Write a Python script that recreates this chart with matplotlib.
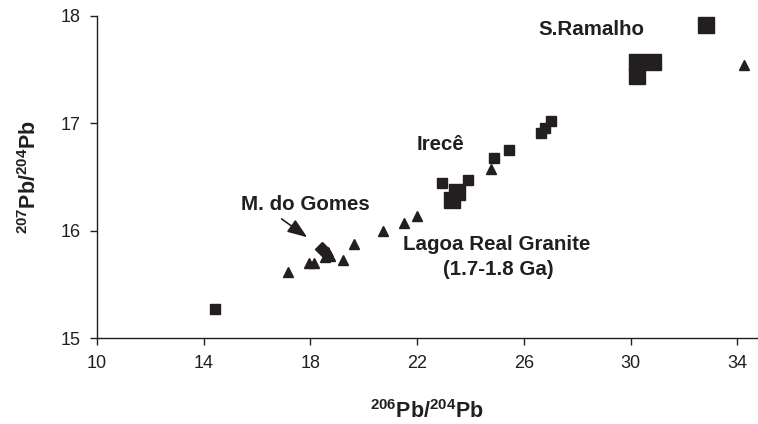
import matplotlib.pyplot as plt

plt.rcParams['font.family'] = ['Liberation Sans', 'DejaVu Sans']
plt.rcParams['mathtext.fontset'] = 'custom'
plt.rcParams['mathtext.rm'] = 'Liberation Sans:bold'
plt.rcParams['mathtext.default'] = 'rm'

INK = '#231f20'

# Lagoa Real granite (triangles)
tri_x = [17.15, 17.95, 18.15, 18.55, 18.75, 18.65, 19.23, 19.62, 20.73, 21.52, 22.00, 24.78, 34.26]
tri_y = [15.62, 15.70, 15.70, 15.76, 15.77, 15.80, 15.73, 15.88, 16.00, 16.07, 16.14, 16.57, 17.54]

# M. do Gomes (diamond)
dia_x = [18.45]
dia_y = [15.83]

# ore samples, small squares
sq_x = [14.42, 22.92, 23.92, 24.89, 25.46, 26.64, 26.79, 27.02]
sq_y = [15.27, 16.44, 16.47, 16.68, 16.75, 16.91, 16.96, 17.02]

# large squares (Irecê / S.Ramalho)
big_x = [23.29, 23.51, 30.26, 30.84, 30.26, 32.83]
big_y = [16.29, 16.36, 17.57, 17.57, 17.44, 17.91]

x_ticks = [10, 14, 18, 22, 26, 30, 34]
y_ticks = [15, 16, 17, 18]

fig = plt.figure(figsize=(7.58, 4.24), dpi=100)
ax = fig.add_axes([0.128, 0.202, 0.871, 0.761])

ax.plot(tri_x, tri_y, '^', ms=7.5, color=INK, mec=INK, ls='none')
ax.plot(dia_x, dia_y, 'D', ms=7.0, color=INK, mec=INK, ls='none')
ax.plot(sq_x, sq_y, 's', ms=7.4, color=INK, mec=INK, ls='none')
ax.plot(big_x, big_y, 's', ms=11, color=INK, mec=INK, ls='none')

lab = dict(fontsize=14.8, fontweight='bold', color=INK, ha='center', va='center')
ax.text(28.55, 17.87, 'S.Ramalho', **lab)
ax.text(22.86, 16.80, 'Irecê', **lab)
ax.text(17.8, 16.24, 'M. do Gomes', **lab)
ax.text(24.98, 15.87, 'Lagoa Real Granite', **lab)
ax.text(25.04, 15.64, '(1.7-1.8 Ga)', **lab)

ax.annotate('', xy=(17.88, 15.94), xytext=(16.92, 16.11),
            arrowprops=dict(arrowstyle='-|>,head_length=1.2,head_width=0.45',
                            color=INK, lw=1.2, shrinkA=0, shrinkB=0))

ax.set_xlim(10, 34.75)
ax.set_ylim(15, 18)
ax.set_xticks(x_ticks)
ax.set_yticks(y_ticks)
ax.spines['top'].set_visible(False)
ax.spines['right'].set_visible(False)
for s in ('left', 'bottom'):
    ax.spines[s].set_color(INK)
    ax.spines[s].set_linewidth(1.0)
ax.tick_params(direction='out', length=5, width=1.0, color=INK,
               labelsize=13, labelcolor=INK, pad=7)

ax.set_xlabel(r'$^{206}$Pb/$^{204}$Pb', fontsize=15.5, fontweight='bold', color=INK, labelpad=20)
ax.set_ylabel(r'$^{207}$Pb/$^{204}$Pb', fontsize=15.5, fontweight='bold', color=INK, labelpad=14)

fig.savefig('out.png', dpi=100)
